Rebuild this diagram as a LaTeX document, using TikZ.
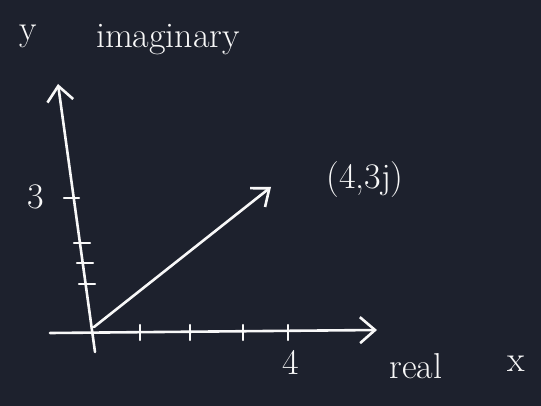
\documentclass[tikz,border=0pt]{standalone}
\usepackage{tikz}
\usetikzlibrary{arrows.meta}
\definecolor{boardbg}{RGB}{29,33,45}
\definecolor{chalk}{RGB}{248,248,248}

\tikzset{
  chalkline/.style={chalk, line width=2.6pt, line cap=round},
  chalktext/.style={text=chalk, font=\fontsize{36}{40}\selectfont},
  tickmark/.style={chalk, line width=2.2pt, line cap=round}
}

\begin{document}
\begin{tikzpicture}[x=1pt,y=-1pt]
\fill[boardbg] (0,0) rectangle (541,406);

% axes
\coordinate (origin) at (94,327);
\coordinate (ybot) at (95,352);
\coordinate (ytop) at (58,84);
\coordinate (xleft) at (50,333);
\coordinate (xright) at (377,330);
\coordinate (tip) at (271,187);
\draw[chalkline, -{Straight Barb[length=15pt,width=26pt]}] (ybot) -- (ytop);
\draw[chalkline, -{Straight Barb[length=15pt,width=26pt]}] (xleft) -- (xright);
\draw[chalkline, -{Straight Barb[length=15pt,width=24pt]}] (origin) -- (tip);

% ticks
\foreach \tx in {140,190,243,288}
  \draw[tickmark] (\tx,325) -- (\tx,340);
\draw[tickmark] (64,198) -- (79,198);
\foreach \ty/\tx in {243/82,263/85,284/87}
  \draw[tickmark] (\tx-8,\ty) -- (\tx+8,\ty);

% labels
\node[chalktext] (threelab) at (36,197) {3};
\node[chalktext] (fourlab) at (291,362) {4};
\node[chalktext] (pointlab) at (365,180) {(4,3j)};
\node[chalktext] (ylab) at (28,36) {y};
\node[chalktext] (imlab) at (168,40) {imaginary};
\node[chalktext] (reallab) at (416,366) {real};
\node[chalktext] (xlab) at (516,364) {x};
\end{tikzpicture}
\end{document}
